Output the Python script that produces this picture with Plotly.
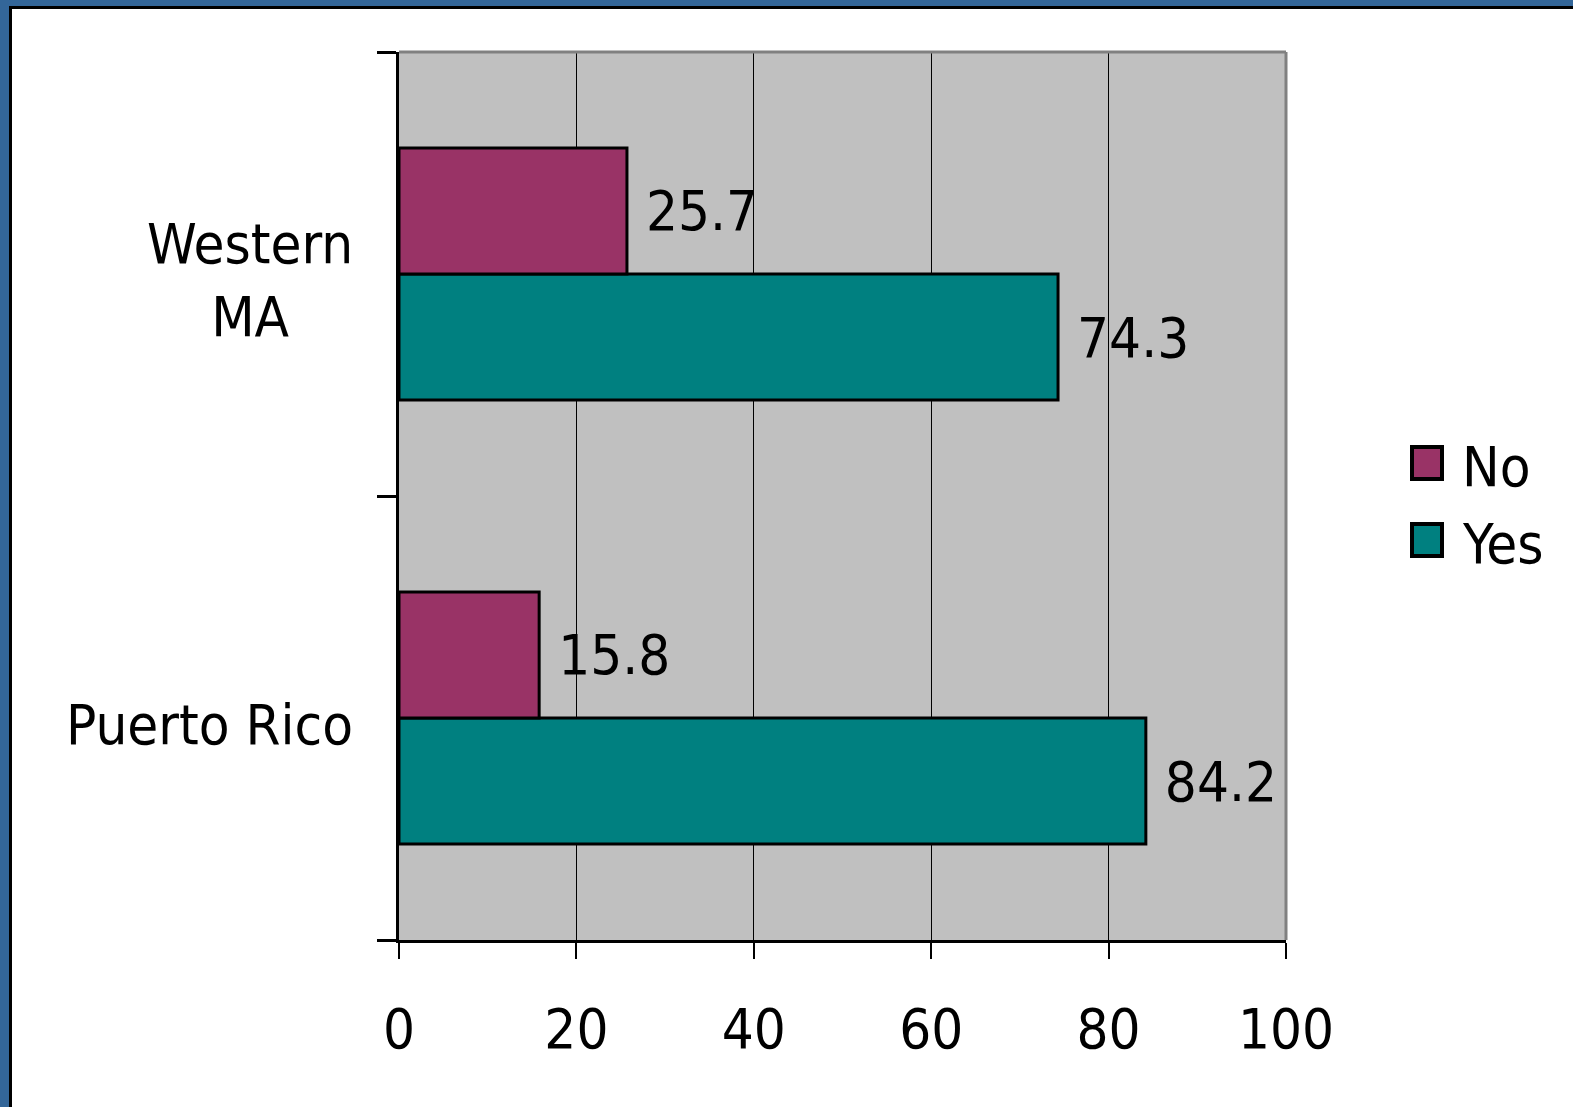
import plotly.graph_objects as go

# Survey responses (%) by region
categories = ["Puerto Rico", "Western MA"]
category_labels = ["Puerto Rico", "Western<br>MA"]
series_names = ["No", "Yes"]
no_values = [15.8, 25.7]
yes_values = [84.2, 74.3]
x_ticks = [0, 20, 40, 60, 80, 100]

colors = {"No": "#993366", "Yes": "#008080"}
FONT = "DejaVu Sans Condensed, Noto Sans, DejaVu Sans, sans-serif"
FS = 56

W, H = 1573, 1107
L, R, T, B = 399, 287, 52, 167
PW, PH = W - L - R, H - T - B


def px(x):
    return (x - L) / PW


def py(y):
    return (H - B - y) / PH


fig = go.Figure()
values = {"No": no_values, "Yes": yes_values}
# Yes first so that it sits below No inside each group
for name in ["Yes", "No"]:
    fig.add_trace(go.Bar(
        y=categories, x=values[name], orientation="h", name=name,
        marker=dict(color=colors[name], line=dict(color="black", width=3)),
        texttemplate="\u00a0%{x:.1f}", textposition="outside",
        textfont=dict(family=FONT, size=FS, color="black"),
        cliponaxis=False, constraintext="none", showlegend=False,
    ))

shapes = []
# outer frame: blue band with a black rule on the left and top
shapes.append(dict(type="rect", xref="paper", yref="paper", x0=px(0), x1=px(9), y0=py(H), y1=py(0),
                   fillcolor="#336699", line=dict(width=0), layer="above"))
shapes.append(dict(type="rect", xref="paper", yref="paper", x0=px(0), x1=px(W), y0=py(6), y1=py(0),
                   fillcolor="#336699", line=dict(width=0), layer="above"))
shapes.append(dict(type="rect", xref="paper", yref="paper", x0=px(9), x1=px(12), y0=py(H), y1=py(6),
                   fillcolor="black", line=dict(width=0), layer="above"))
shapes.append(dict(type="rect", xref="paper", yref="paper", x0=px(9), x1=px(W), y0=py(9), y1=py(6),
                   fillcolor="black", line=dict(width=0), layer="above"))
# top and right plot border in grey
shapes.append(dict(type="line", xref="paper", yref="paper", x0=0, x1=1, y0=1, y1=1,
                   line=dict(color="#808080", width=3), layer="above"))
shapes.append(dict(type="line", xref="paper", yref="paper", x0=1, x1=1, y0=0, y1=1,
                   line=dict(color="#808080", width=3), layer="above"))

annotations = []
for cat, lab in zip(categories, category_labels):
    annotations.append(dict(x=0, xref="paper", y=cat, yref="y", text=lab, showarrow=False,
                            xanchor="right", yanchor="middle", xshift=-44, yshift=-6, align="center",
                            font=dict(family=FONT, size=FS, color="black")))

# legend
leg_y = [463, 540]
for name, yc in zip(series_names, leg_y):
    shapes.append(dict(type="rect", xref="paper", yref="paper",
                       x0=px(1412), x1=px(1442), y0=py(yc + 16), y1=py(yc - 16),
                       fillcolor=colors[name], line=dict(color="black", width=4), layer="above"))
    annotations.append(dict(x=px(1460), xref="paper", y=py(yc + 3), yref="paper", text=name,
                            showarrow=False, xanchor="left", yanchor="middle",
                            font=dict(family=FONT, size=FS, color="black")))

fig.update_layout(
    width=W, height=H, margin=dict(l=L, r=R, t=T, b=B),
    paper_bgcolor="white", plot_bgcolor="#C0C0C0",
    barmode="group", bargap=0.432, bargroupgap=0,
    showlegend=False, shapes=shapes, annotations=annotations,
    font=dict(family=FONT, size=FS, color="black"),
    xaxis=dict(range=[0, 100], tickvals=x_ticks, showgrid=True, gridcolor="black", gridwidth=1,
               zeroline=False, showline=True, linecolor="black", linewidth=3,
               ticks="outside", ticklen=16, tickwidth=2, tickcolor="black",
               tickfont=dict(family=FONT, size=FS, color="black"), ticklabelstandoff=22),
    yaxis=dict(categoryorder="array", categoryarray=categories, showgrid=False, zeroline=False,
               showline=True, linecolor="black", linewidth=3, showticklabels=False,
               ticks="outside", tickson="boundaries", ticklen=19, tickwidth=3, tickcolor="black"),
)

fig.write_html("out.html")
